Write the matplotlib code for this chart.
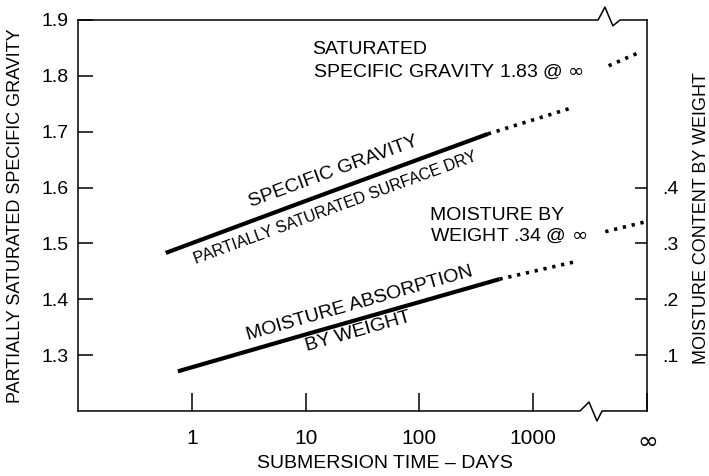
import matplotlib.pyplot as plt
from matplotlib.lines import Line2D

plt.rcParams['font.family'] = ['Liberation Sans', 'DejaVu Sans']
plt.rcParams['mathtext.fontset'] = 'dejavusans'

# specific gravity (left axis), submersion time in days
sg_days = [0.59, 10, 100, 400]
sg_values = [1.483, 1.576, 1.651, 1.696]
sg_ext_days = [400, 2200]
sg_ext_values = [1.696, 1.743]
sg_inf_days = [4600, 8800]
sg_inf_values = [1.818, 1.843]

# moisture absorption by weight (right axis)
ma_days = [0.755, 10, 100, 505]
ma_values = [0.071, 0.137, 0.195, 0.236]
ma_ext_days = [505, 2430]
ma_ext_values = [0.236, 0.268]
ma_inf_days = [4300, 9400]
ma_inf_values = [0.321, 0.338]

x_ticks = [1, 10, 100, 1000, 10000]
x_labels = ['1', '10', '100', '1000', r'$\infty$']
left_ticks = [1.3, 1.4, 1.5, 1.6, 1.7, 1.8, 1.9]
left_labels = ['1.3', '1.4', '1.5', '1.6', '1.7', '1.8', '1.9']
right_ticks = [0.1, 0.2, 0.3, 0.4]
right_labels = ['.1', '.2', '.3', '.4']

fig = plt.figure(figsize=(7.09, 4.76), dpi=100)
ax = fig.add_axes([0.110, 0.1366, 0.8026, 0.8214])
ax2 = ax.twinx()

ax.set_xscale('log')
ax.set_xlim(0.1, 10000)
ax.set_ylim(1.2, 1.9)
ax2.set_ylim(0, 0.7)

dots = (0, (0.9, 1.6))
ax.plot(sg_days, sg_values, color='black', lw=3, solid_capstyle='butt')
ax.plot(sg_ext_days, sg_ext_values, color='black', lw=2.6, linestyle=dots)
ax.plot(sg_inf_days, sg_inf_values, color='black', lw=2.6, linestyle=dots)
ax2.plot(ma_days, ma_values, color='black', lw=3, solid_capstyle='butt')
ax2.plot(ma_ext_days, ma_ext_values, color='black', lw=2.6, linestyle=dots)
ax2.plot(ma_inf_days, ma_inf_values, color='black', lw=2.6, linestyle=dots)

# ticks
ax.set_xticks(x_ticks)
ax.set_xticklabels(x_labels)
ax.xaxis.set_minor_locator(plt.NullLocator())
ax.set_yticks(left_ticks)
ax.set_yticklabels(left_labels)
ax.tick_params(axis='x', direction='in', length=13, width=1.1, pad=13, labelsize=15)
ax.get_xticklabels()[-1].set_fontsize(18)
ax.tick_params(axis='y', direction='in', length=11, width=1.1, pad=7, labelsize=14)
ax2.set_yticks(right_ticks)
ax2.set_yticklabels(right_labels)
ax2.tick_params(axis='y', direction='in', length=9, width=1.1, pad=11, labelsize=14)

# spines with break marks
for s in ['top', 'bottom', 'right']:
    ax.spines[s].set_visible(False)
for s in ['top', 'bottom', 'left']:
    ax2.spines[s].set_visible(False)
ax.spines['left'].set_linewidth(1.1)
ax2.spines['right'].set_linewidth(1.1)

top_x = [0, 0.914, 0.926, 0.940, 0.9525, 1]
top_y = [1, 1, 1.033, 0.985, 1, 1]
bot_x = [0, 0.8822, 0.898, 0.912, 0.921, 1]
bot_y = [0, 0, 0.023, -0.0256, 0, 0]
for xs, ys in [(top_x, top_y), (bot_x, bot_y)]:
    ax.add_line(Line2D(xs, ys, transform=ax.transAxes, color='black',
                       lw=1.1, clip_on=False))

# axis labels
ax.set_ylabel('PARTIALLY SATURATED SPECIFIC GRAVITY', fontsize=13)
ax.yaxis.set_label_coords(-0.095, 0.5)
ax2.set_ylabel('MOISTURE CONTENT BY WEIGHT', fontsize=13, rotation=90)
ax2.yaxis.set_label_coords(1.081, 0.494)
ax.set_xlabel('SUBMERSION TIME \u2013 DAYS', fontsize=14)
ax.xaxis.set_label_coords(0.54, -0.112)

# annotations
ax.text(11.5, 1.839, 'SATURATED', fontsize=14, ha='left', va='baseline')
ax.text(11.5, 1.798, r'SPECIFIC GRAVITY 1.83 @ $\infty$', fontsize=14, ha='left', va='baseline')
ax.text(123, 1.5415, 'MOISTURE BY', fontsize=14, ha='left', va='baseline')
ax.text(123, 1.504, r'WEIGHT .34 @ $\infty$', fontsize=14, ha='left', va='baseline')
ax.text(17.5, 1.628, 'SPECIFIC GRAVITY', fontsize=14, rotation=20.2,
        rotation_mode='anchor', ha='center', va='center')
ax.text(18.2, 1.5634, 'PARTIALLY SATURATED SURFACE DRY', fontsize=11.5, rotation=20.2,
        rotation_mode='anchor', ha='center', va='center')
ax.text(30.1, 1.393, 'MOISTURE ABSORPTION', fontsize=14, rotation=15.9,
        rotation_mode='anchor', ha='center', va='center')
ax.text(28.9, 1.341, 'BY WEIGHT', fontsize=14, rotation=15.9,
        rotation_mode='anchor', ha='center', va='center')

fig.savefig('out.png', dpi=100)
